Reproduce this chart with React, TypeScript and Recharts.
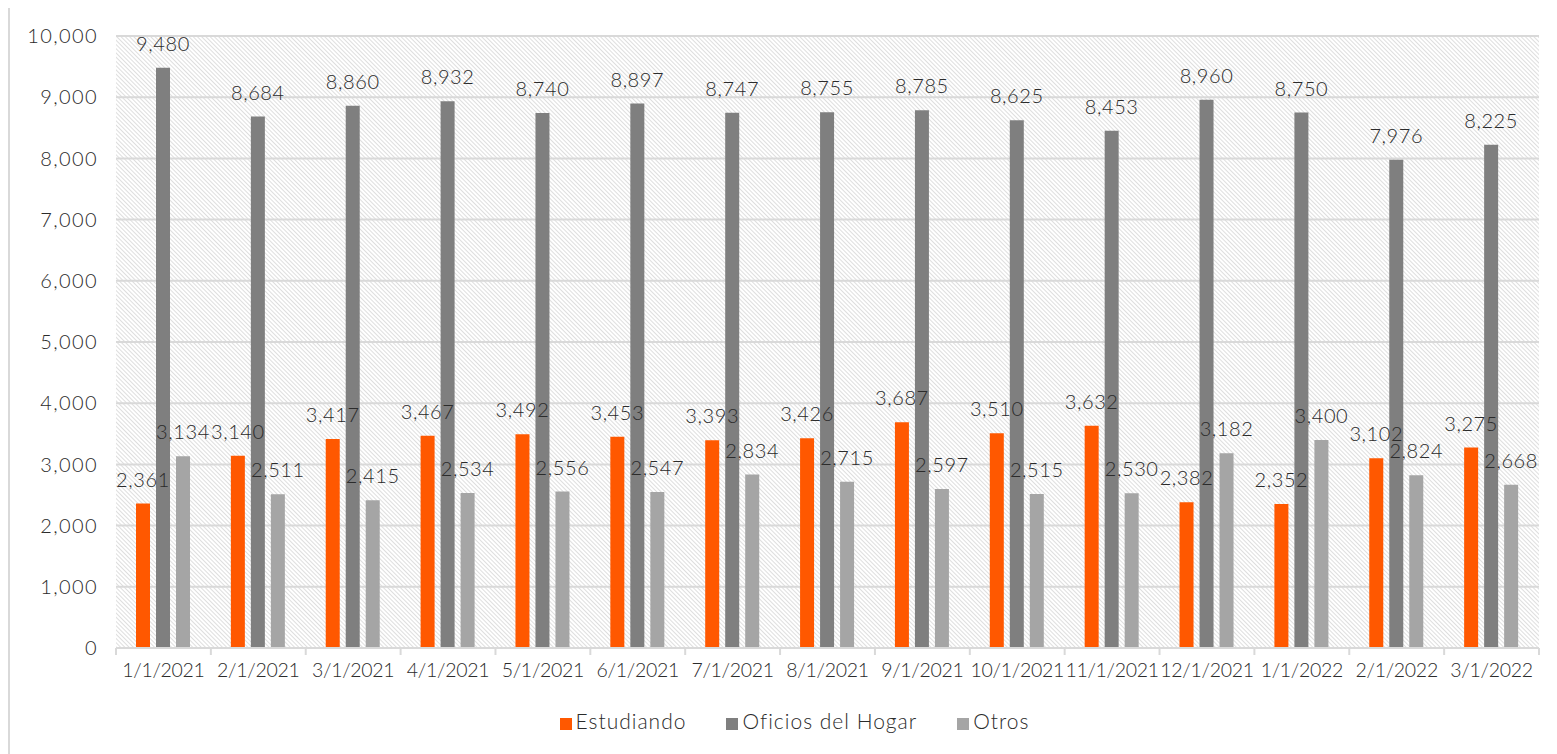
import { BarChart, Bar, XAxis, YAxis, CartesianGrid, Legend, LabelList } from 'recharts';

const months = [
  '1/1/2021', '2/1/2021', '3/1/2021', '4/1/2021', '5/1/2021', '6/1/2021', '7/1/2021', '8/1/2021',
  '9/1/2021', '10/1/2021', '11/1/2021', '12/1/2021', '1/1/2022', '2/1/2022', '3/1/2022',
];
const estudiando = [2361, 3140, 3417, 3467, 3492, 3453, 3393, 3426, 3687, 3510, 3632, 2382, 2352, 3102, 3275];
const oficiosHogar = [9480, 8684, 8860, 8932, 8740, 8897, 8747, 8755, 8785, 8625, 8453, 8960, 8750, 7976, 8225];
const otros = [3134, 2511, 2415, 2534, 2556, 2547, 2834, 2715, 2597, 2515, 2530, 3182, 3400, 2824, 2668];
const yTicks = [0, 1000, 2000, 3000, 4000, 5000, 6000, 7000, 8000, 9000, 10000];

const chartData = months.map((month, i) => ({
  month,
  estudiando: estudiando[i],
  oficios: oficiosHogar[i],
  otros: otros[i],
}));

const FONT = "'Lato Light', Lato, sans-serif";
const TEXT = '#2b2b2b';
const fmt = (v: number) => v.toLocaleString('en-US');

// category label plus the little separator ticks Excel draws between categories
function MonthTick(props: any) {
  const { x, y, payload, index, width } = props;
  const bw = width / months.length;
  return (
    <g>
      {index === 0 && <line x1={x - bw / 2} x2={x - bw / 2} y1={y} y2={y + 7} stroke="#d9d9d9" strokeWidth={2} />}
      <line x1={x + bw / 2} x2={x + bw / 2} y1={y} y2={y + 7} stroke="#d9d9d9" strokeWidth={2} />
      <text x={x} y={y + 29} textAnchor="middle" fill={TEXT} fontSize={19.5} fontWeight={300} fontFamily={FONT} letterSpacing={-0.3}>
        {payload.value}
      </text>
    </g>
  );
}

const labelProps = { position: 'top' as const, offset: 17, fill: TEXT, fontSize: 20, fontWeight: 300, fontFamily: FONT, letterSpacing: 0.6 };

export default function App() {
  return (
    <div style={{ marginTop: -3, border: '2px solid #d9d9d9', borderRight: 'none', width: 1560, height: 760, boxSizing: 'border-box', overflow: 'hidden' }}>
      <BarChart
        width={1547}
        height={748}
        data={chartData}
        margin={{ top: 29, right: 18, left: 0, bottom: 22 }}
        barSize={14}
        barGap={6}
      >
        <defs>
          <pattern id="hatch" width="3" height="3" patternUnits="userSpaceOnUse" patternTransform="rotate(-45)">
            <rect width="3" height="3" fill="#ffffff" />
            <line x1="0" y1="0" x2="0" y2="3" stroke="#cccccc" strokeWidth={1.3} />
          </pattern>
        </defs>
        <CartesianGrid vertical={false} stroke="#d9d9d9" strokeWidth={2} fill="url(#hatch)" />
        <XAxis
          dataKey="month"
          axisLine={{ stroke: '#d9d9d9', strokeWidth: 2 }}
          tickLine={false}
          tickSize={0}
          tickMargin={0}
          height={48}
          interval={0}
          tick={<MonthTick />}
        />
        <YAxis
          width={106}
          domain={[0, 10000]}
          ticks={yTicks}
          axisLine={false}
          tickLine={false}
          tickSize={0}
          tickMargin={18}
          tickFormatter={fmt}
          tick={{ fill: TEXT, fontSize: 20, fontWeight: 300, fontFamily: FONT, letterSpacing: 1.4 }}
        />
        <Legend
          verticalAlign="bottom"
          iconType="square"
          iconSize={12}
          wrapperStyle={{ fontFamily: FONT, fontSize: 21, fontWeight: 300, letterSpacing: 1, paddingTop: 12, paddingLeft: 40 }}
          formatter={(value) => <span style={{ color: TEXT, marginRight: 30 }}>{value}</span>}
        />
        <Bar dataKey="estudiando" name="Estudiando" fill="#ff5800" isAnimationActive={false}>
          <LabelList dataKey="estudiando" formatter={(v: any) => fmt(v)} {...labelProps} />
        </Bar>
        <Bar dataKey="oficios" name="Oficios del Hogar" fill="#7f7f7f" isAnimationActive={false}>
          <LabelList dataKey="oficios" formatter={(v: any) => fmt(v)} {...labelProps} />
        </Bar>
        <Bar dataKey="otros" name="Otros" fill="#a5a5a5" isAnimationActive={false}>
          <LabelList dataKey="otros" formatter={(v: any) => fmt(v)} {...labelProps} />
        </Bar>
      </BarChart>
    </div>
  );
}
